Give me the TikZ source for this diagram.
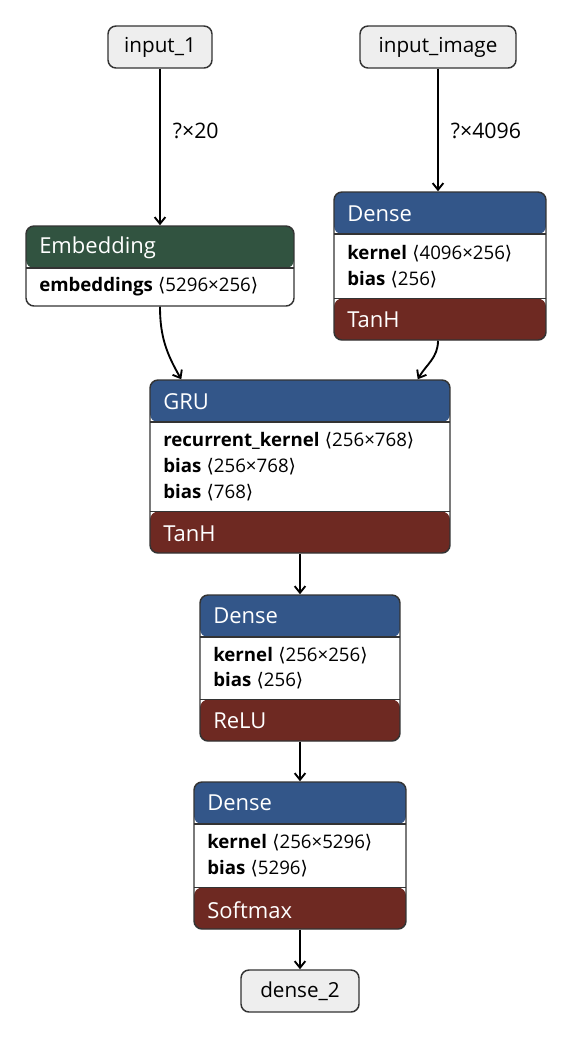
\documentclass[tikz,border=0pt]{standalone}
\usepackage{fontspec}
\setmainfont{Open Sans}
\newfontfamily\brfont{DejaVu Sans}
\usetikzlibrary{arrows.meta,fit}
\definecolor{hdblue}{RGB}{51,86,137}
\definecolor{hdgreen}{RGB}{49,83,64}
\definecolor{actred}{RGB}{110,41,34}
\definecolor{edgegray}{RGB}{51,51,51}
\definecolor{iofill}{RGB}{238,238,238}
\newcommand{\dims}[1]{\hspace{4pt}{\brfont ⟨}#1{\brfont ⟩}}

\begin{document}
\begin{tikzpicture}[x=0.75pt,y=-0.75pt,>={Straight Barb[length=5pt,width=8pt]},
  io/.style={draw=edgegray,line width=1.1pt,rounded corners=6pt,fill=iofill,
  minimum height=31.5pt,inner sep=0pt,font=\fontsize{15.5}{18}\selectfont},
  layer/.style={draw=edgegray,line width=1.1pt,rounded corners=6pt,fill=white,inner sep=0pt},
  hdr/.style={path picture={\fill[#1] (path picture bounding box.north west)
    rectangle ([yshift=-31.5pt]path picture bounding box.north east);
    \draw[edgegray,line width=1pt] ([yshift=-31.5pt]path picture bounding box.north west)
    -- ([yshift=-31.5pt]path picture bounding box.north east);}},
  hdrft/.style={path picture={\fill[#1] (path picture bounding box.north west)
    rectangle ([yshift=-31.5pt]path picture bounding box.north east);
    \draw[edgegray,line width=1pt] ([yshift=-31.5pt]path picture bounding box.north west)
    -- ([yshift=-31.5pt]path picture bounding box.north east);
    \fill[actred] ([yshift=31pt]path picture bounding box.south west)
    rectangle (path picture bounding box.south east);
    \draw[edgegray,line width=1pt] ([yshift=31pt]path picture bounding box.south west)
    -- ([yshift=31pt]path picture bounding box.south east);}},
  title/.style={anchor=west,text=white,inner sep=0pt,font=\fontsize{16.5}{18}\selectfont},
  param/.style={anchor=west,inner sep=0pt,font=\fontsize{14}{16}\selectfont},
  lab/.style={right,inner sep=0pt,xshift=9pt,font=\fontsize{16}{18}\selectfont},
  link/.style={->,line width=1.4pt}]
  \useasboundingbox (0,0) rectangle (572,1040);

  % inputs
  \node[io,minimum width=78pt] (in1) at (160,47) {input\_1};
  \node[io,minimum width=117pt] (in2) at (438,47) {input\_image};

  % layers
  \node[layer,hdr=hdgreen,fit={(26,226)(294,306)}] (emb) {};
  \node[title] (embt) at (39,248) {Embedding};
  \node[param] (embp1) at (39,287) {\textbf{embeddings}\dims{5296×256}};

  \node[layer,hdrft=hdblue,fit={(334,192)(546,340)}] (den1) {};
  \node[title] (den1t) at (347,214) {Dense};
  \node[param] (den1p1) at (347,254) {\textbf{kernel}\dims{4096×256}};
  \node[param] (den1p2) at (347,280) {\textbf{bias}\dims{256}};
  \node[title] (den1a) at (347,320) {TanH};

  \node[layer,hdrft=hdblue,fit={(150,380)(450,553)}] (gru) {};
  \node[title] (grut) at (163,402) {GRU};
  \node[param] (grup1) at (163,441) {\textbf{recurrent\_kernel}\dims{256×768}};
  \node[param] (grup2) at (163,467) {\textbf{bias}\dims{256×768}};
  \node[param] (grup3) at (163,493) {\textbf{bias}\dims{768}};
  \node[title] (grua) at (163,534) {TanH};

  \node[layer,hdrft=hdblue,fit={(200,595)(400,741)}] (den2) {};
  \node[title] (den2t) at (213,616) {Dense};
  \node[param] (den2p1) at (213,656) {\textbf{kernel}\dims{256×256}};
  \node[param] (den2p2) at (213,681) {\textbf{bias}\dims{256}};
  \node[title] (den2a) at (213,721) {ReLU};

  \node[layer,hdrft=hdblue,fit={(194,782)(406,929)}] (den3) {};
  \node[title] (den3t) at (207,803) {Dense};
  \node[param] (den3p1) at (207,843) {\textbf{kernel}\dims{256×5296}};
  \node[param] (den3p2) at (207,869) {\textbf{bias}\dims{5296}};
  \node[title] (den3a) at (207,910) {Softmax};

  \node[io,minimum width=88.5pt] (out) at (300,991) {dense\_2};

  % connectors
  \draw[link] (in1) -- node[lab,pos=0.4]{?×20} (emb);
  \draw[link] (in2.south) -- node[lab,pos=0.51]{?×4096} (in2.south |- den1.north);
  \draw[link] (emb.south) to[out=-90,in=120] ([xshift=24pt]gru.north west);
  \draw[link] (den1.south -| in2.south) to[out=-90,in=60] ([xshift=-24.75pt]gru.north east);
  \draw[link] (gru) -- (den2);
  \draw[link] (den2) -- (den3);
  \draw[link] (den3) -- (out);
\end{tikzpicture}
\end{document}
